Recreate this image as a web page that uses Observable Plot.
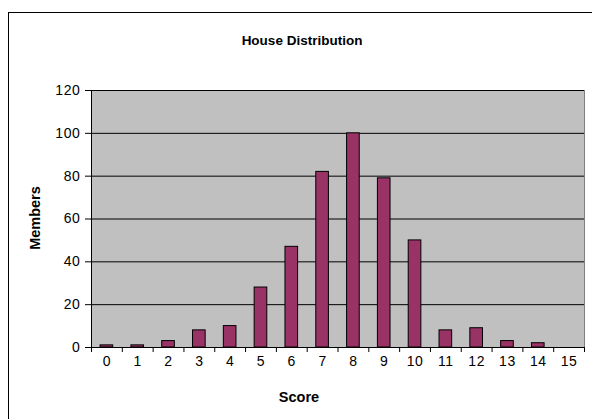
<!DOCTYPE html>
<html>
<head>
<meta charset="utf-8">
<script src="https://cdn.jsdelivr.net/npm/d3@7"></script>
<script src="https://cdn.jsdelivr.net/npm/@observablehq/plot@0.6"></script>
<style>
  html, body { margin: 0; padding: 0; background: #fff; }
  #wrap { position: relative; width: 592px; height: 419px; overflow: hidden; font-family: "Liberation Sans", Arial, sans-serif; color: #000; }
  #border { position: absolute; left: 8px; top: 12px; width: 620px; height: 440px; border: 1px solid #000; box-sizing: border-box; }
  #chart { position: absolute; left: 0; top: 0; }
  .lbl { position: absolute; font-weight: bold; font-size: 14.5px; white-space: nowrap; line-height: 1; }
  #title { left: 302px; top: 34px; transform: translateX(-50%); font-size: 13.5px; }
  #xlabel { left: 299px; top: 390px; transform: translateX(-50%); }
  #ylabel { left: 35px; top: 218px; transform: translate(-50%, -50%) rotate(-90deg); }
  #chart svg text { letter-spacing: 0.6px; }
</style>
</head>
<body>
<div id="wrap">
  <div id="border"></div>
  <div id="chart"></div>
  <div class="lbl" id="title"></div>
  <div class="lbl" id="xlabel"></div>
  <div class="lbl" id="ylabel"></div>
</div>
<script>
const titleText = "House Distribution";
const xLabelText = "Score";
const yLabelText = "Members";
const scores = [0, 1, 2, 3, 4, 5, 6, 7, 8, 9, 10, 11, 12, 13, 14, 15];
const members = [1, 1, 3, 8, 10, 28, 47, 82, 100, 79, 50, 8, 9, 3, 2, 0];
const yTicks = [0, 20, 40, 60, 80, 100, 120];

const data = scores.map((s, i) => ({score: s, members: members[i]}));
const xBoundaries = scores.map(s => s - 0.5).concat([scores[scores.length - 1] + 0.5]);

document.getElementById("title").textContent = titleText;
document.getElementById("xlabel").textContent = xLabelText;
document.getElementById("ylabel").textContent = yLabelText;

const chart = Plot.plot({
  width: 592,
  height: 419,
  marginLeft: 91,
  marginRight: 8,
  marginTop: 90,
  marginBottom: 72,
  style: {fontFamily: "'Liberation Sans', Arial, sans-serif", fontSize: "14px", color: "#000", background: "transparent", overflow: "visible"},
  x: {type: "linear", domain: [-0.5, 15.5]},
  y: {domain: [0, 120]},
  marks: [
    Plot.frame({fill: "#c0c0c0", stroke: "#808080"}),
    Plot.gridY(yTicks, {stroke: "#000", strokeOpacity: 1}),
    Plot.rectY(data, {x1: d => d.score - 0.205, x2: d => d.score + 0.205, y: "members", fill: "#993366", stroke: "#000", strokeWidth: 1}),
    Plot.ruleX([-0.5], {stroke: "#000"}),
    Plot.ruleY([0], {stroke: "#000"}),
    Plot.axisY(yTicks, {tickSize: 6, tickPadding: 5, label: null, stroke: "#000", fontSize: 14, fill: "#000"}),
    Plot.axisX(scores, {tickSize: 0, tickPadding: 9, label: null, tickFormat: d => String(d), fontSize: 14, fill: "#000"}),
    Plot.axisX(xBoundaries, {tickSize: 5, tickFormat: () => "", label: null, stroke: "#000"})
  ]
});
document.getElementById("chart").appendChild(chart);
</script>
</body>
</html>
